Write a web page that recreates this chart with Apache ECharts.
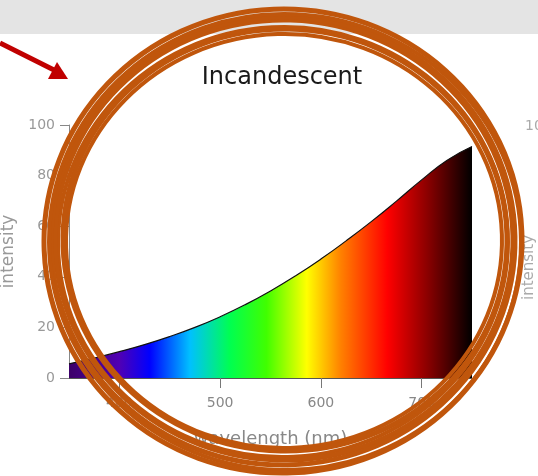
<!DOCTYPE html>
<html><head><meta charset="utf-8">
<script src="https://cdn.jsdelivr.net/npm/echarts@6/dist/echarts.min.js"></script>
<style>html,body{margin:0;padding:0;background:#fff}#c{width:538px;height:476px}</style>
</head><body><div id="c"></div>
<script>
const titleText = 'Incandescent';
const wavelengths = [350,375,400,425,450,475,500,525,550,575,600,625,650,675,700,725,750];
const intensity   = [5.6,7.9,10.4,13.2,16.4,20.0,24.2,29.0,34.4,40.4,47.0,54.2,61.8,69.9,78.3,86.0,91.5];
const xTicks = [400,500,600,700];
const yTicks = [0,20,40,60,80,100];
const spectrumStops = [
  [0,'#3c0068'],[0.125,'#5000b4'],[0.2,'#0000ff'],[0.3,'#00c0ff'],[0.4,'#00ff50'],
  [0.49,'#40ff00'],[0.59,'#ffff00'],[0.675,'#ff8000'],[0.79,'#ff0000'],[0.89,'#8a0000'],[1,'#000000']
];

const chart = echarts.init(document.getElementById('c'));
const orange = '#c0560c';
const strands = [
  {cx:284,cy:241,rx:218,ry:207,r:0.03,w:4},
  {cx:285,cy:240,rx:222,ry:211,r:-0.02,w:5},
  {cx:283,cy:242,rx:225,ry:215,r:0.05,w:4},
  {cx:284,cy:240,rx:229,ry:220,r:-0.03,w:5},
  {cx:283,cy:241,rx:232,ry:224,r:0.02,w:5},
  {cx:285,cy:242,rx:236,ry:228,r:-0.05,w:4},
  {cx:283,cy:241,rx:239,ry:232,r:0.04,w:5}
];
const graphics = [
  {type:'rect', shape:{x:0,y:0,width:538,height:34}, style:{fill:'#e4e4e4'}, z:-10, silent:true},
  {type:'text', x:525, y:119, style:{text:'100', fill:'#aaa', font:'14px "DejaVu Sans"'}},
  {type:'text', x:522, y:300, rotation:Math.PI/2, style:{text:'intensity', fill:'#aaa', font:'15px "DejaVu Sans"'}},
  {type:'line', shape:{x1:0,y1:43,x2:56,y2:71}, style:{stroke:'#c00000', lineWidth:5}, z:100},
  {type:'polygon', shape:{points:[[68,79],[57,62],[48,79]]}, style:{fill:'#c00000'}, z:100}
];
strands.forEach(s => graphics.push({
  type:'ellipse', x:s.cx, y:s.cy, rotation:s.r,
  shape:{cx:0,cy:0,rx:s.rx,ry:s.ry},
  style:{fill:'none', stroke:orange, lineWidth:s.w}, z:100, silent:true
}));

chart.setOption({
  animation:false,
  backgroundColor:'#fff',
  title:{text:titleText, left:277, textAlign:'center', top:61, textStyle:{fontFamily:'DejaVu Sans', fontSize:24, fontWeight:'normal', color:'#1a1a1a'}},
  grid:{left:69, right:66, top:125, bottom:98, containLabel:false, outerBoundsMode:'none'},
  xAxis:{
    type:'value', min:350, max:750,
    name:'wavelength (nm)', nameLocation:'middle', nameGap:52,
    nameTextStyle:{fontFamily:'DejaVu Sans', fontSize:18, color:'#888'},
    axisLine:{lineStyle:{color:'#555', width:1}},
    axisTick:{show:true, length:10, lineStyle:{color:'#777'}, customValues:xTicks},
    axisLabel:{fontFamily:'DejaVu Sans', fontSize:14, color:'#888', margin:18, customValues:xTicks},
    splitLine:{show:false}
  },
  yAxis:{
    type:'value', min:0, max:100, interval:20,
    name:'intensity', nameLocation:'middle', nameGap:40,
    nameTextStyle:{fontFamily:'DejaVu Sans', fontSize:17, color:'#999'},
    axisLine:{show:true, lineStyle:{color:'#888'}},
    axisTick:{show:true, length:9, lineStyle:{color:'#888'}},
    axisLabel:{fontFamily:'DejaVu Sans', fontSize:14, color:'#999', margin:14},
    splitLine:{show:false}
  },
  series:[{
    type:'line', smooth:true, symbol:'none',
    data: wavelengths.map((w,i)=>[w,intensity[i]]),
    lineStyle:{color:'#111', width:1.2},
    areaStyle:{opacity:1, color:new echarts.graphic.LinearGradient(0,0,1,0, spectrumStops.map(s=>({offset:s[0], color:s[1]})))}
  }],
  graphic: graphics
});
</script></body></html>
